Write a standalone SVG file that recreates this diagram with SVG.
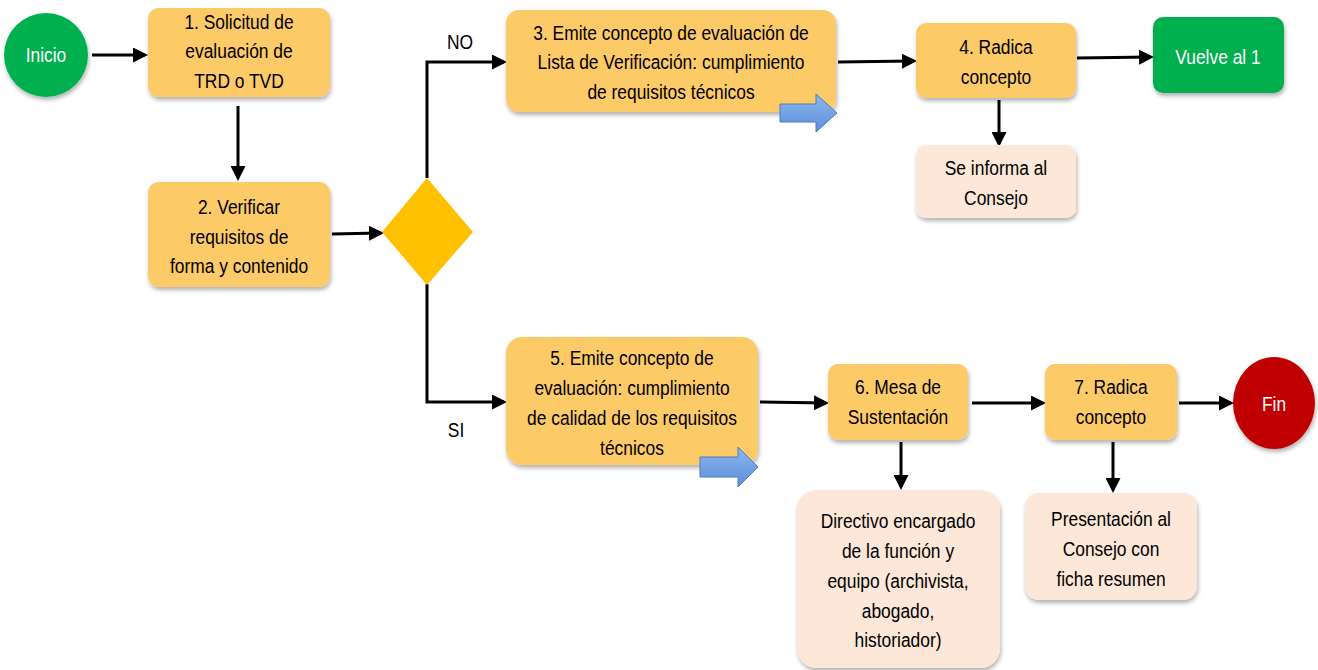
<svg xmlns="http://www.w3.org/2000/svg" width="1318" height="670" viewBox="0 0 1318 670">
<style>
.t{font-family:"Liberation Sans",Arial,sans-serif;font-size:20px;fill:#000;text-anchor:middle;dominant-baseline:central}
.w{fill:#fff}
.box{fill:#FDCA68}
.note{fill:#FCE7D8}
.con{stroke:#000;stroke-width:3;fill:none;marker-end:url(#ah)}
.blk{stroke:#4A7CC0;stroke-width:1}
</style>
<defs>
<marker id="ah" markerWidth="5" markerHeight="5" refX="4" refY="2.5" orient="auto" markerUnits="strokeWidth"><path d="M0,0 L5,2.5 L0,5 z" fill="#000"/></marker>
<filter id="sh" x="-10%" y="-10%" width="125%" height="130%"><feDropShadow dx="1" dy="3" stdDeviation="2" flood-color="#000" flood-opacity="0.3"/></filter>
<linearGradient id="bg" x1="0" y1="0" x2="0" y2="1"><stop offset="0" stop-color="#8DB6EE"/><stop offset="1" stop-color="#5A8FDA"/></linearGradient>
</defs>
<rect width="1318" height="670" fill="#fff"/>
<g id="connectors">
<line class="con" x1="92" y1="55" x2="145" y2="55"/>
<line class="con" x1="238" y1="106" x2="238" y2="178"/>
<line class="con" x1="332" y1="234" x2="381" y2="233"/>
<polyline class="con" points="427,178 427,62 504,62"/>
<polyline class="con" points="427,284 427,402 504,402"/>
<line class="con" x1="838" y1="62" x2="914" y2="61"/>
<line class="con" x1="1077" y1="58" x2="1151" y2="57"/>
<line class="con" x1="999" y1="100" x2="999" y2="144"/>
<line class="con" x1="760" y1="402" x2="826" y2="403"/>
<line class="con" x1="972" y1="403" x2="1043" y2="403"/>
<line class="con" x1="1179" y1="403" x2="1231" y2="403"/>
<line class="con" x1="901" y1="442" x2="901" y2="487"/>
<line class="con" x1="1113" y1="442" x2="1113" y2="490"/>
<g transform="translate(460,0) scale(0.87,1)"><text class="t" x="0" y="42">NO</text></g>
<g transform="translate(456,0) scale(0.87,1)"><text class="t" x="0" y="430">SI</text></g>
</g>
<g id="inicio"><circle cx="46" cy="55" r="42" fill="#00B050" filter="url(#sh)"/><g transform="translate(46,0) scale(0.87,1)"><text class="t w" x="0" y="55">Inicio</text></g></g>
<g id="n1"><rect class="box" x="148" y="8" width="182" height="89" rx="11" filter="url(#sh)"/><g transform="translate(239,0) scale(0.87,1)"><text class="t" x="0" y="22">1. Solicitud de</text><text class="t" x="0" y="51">evaluación de</text><text class="t" x="0" y="81">TRD o TVD</text></g></g>
<g id="n2"><rect class="box" x="148" y="182" width="182" height="105" rx="11" filter="url(#sh)"/><g transform="translate(239,0) scale(0.87,1)"><text class="t" x="0" y="207">2. Verificar</text><text class="t" x="0" y="237">requisitos de</text><text class="t" x="0" y="266">forma y contenido</text></g></g>
<g id="decision"><polygon points="427,178 473,232 427,285 382,232" fill="#FFC000"/></g>
<g id="n3"><rect class="box" x="506" y="10" width="330" height="102" rx="13" filter="url(#sh)"/><g transform="translate(671,0) scale(0.87,1)"><text class="t" x="0" y="33">3. Emite concepto de evaluación de</text><text class="t" x="0" y="62">Lista de Verificación: cumplimiento</text><text class="t" x="0" y="92">de requisitos técnicos</text></g><polygon class="blk" fill="url(#bg)" points="780,104 816,104 816,94 837,113 816,132 816,122 780,122"/></g>
<g id="n4"><rect class="box" x="916" y="23" width="160" height="75" rx="10" filter="url(#sh)"/><g transform="translate(996,0) scale(0.87,1)"><text class="t" x="0" y="47">4. Radica</text><text class="t" x="0" y="77">concepto</text></g></g>
<g id="vuelve"><rect x="1153" y="17" width="131" height="76" rx="10" fill="#00B050" filter="url(#sh)"/><g transform="translate(1218,0) scale(0.87,1)"><text class="t w" x="0" y="57">Vuelve al 1</text></g></g>
<g id="informa"><rect class="note" x="916" y="145" width="160" height="73" rx="10" filter="url(#sh)"/><g transform="translate(996,0) scale(0.87,1)"><text class="t" x="0" y="168">Se informa al</text><text class="t" x="0" y="198">Consejo</text></g></g>
<g id="n5"><rect class="box" x="506" y="337" width="252" height="128" rx="16" filter="url(#sh)"/><g transform="translate(632,0) scale(0.87,1)"><text class="t" x="0" y="358">5. Emite concepto de</text><text class="t" x="0" y="388">evaluación: cumplimiento</text><text class="t" x="0" y="418">de calidad de los requisitos</text><text class="t" x="0" y="448">técnicos</text></g><polygon class="blk" fill="url(#bg)" points="700,457 738,457 738,447 758,467 738,487 738,477 700,477"/></g>
<g id="n6"><rect class="box" x="828" y="364" width="140" height="76" rx="10" filter="url(#sh)"/><g transform="translate(898,0) scale(0.87,1)"><text class="t" x="0" y="387">6. Mesa de</text><text class="t" x="0" y="417">Sustentación</text></g></g>
<g id="n7"><rect class="box" x="1045" y="364" width="132" height="76" rx="10" filter="url(#sh)"/><g transform="translate(1111,0) scale(0.87,1)"><text class="t" x="0" y="387">7. Radica</text><text class="t" x="0" y="417">concepto</text></g></g>
<g id="fin"><ellipse cx="1274" cy="403" rx="41" ry="46" fill="#C00000" filter="url(#sh)"/><g transform="translate(1274,0) scale(0.87,1)"><text class="t w" x="0" y="404">Fin</text></g></g>
<g id="directivo"><rect class="note" x="797" y="490" width="203" height="178" rx="20" filter="url(#sh)"/><g transform="translate(898,0) scale(0.87,1)"><text class="t" x="0" y="521">Directivo encargado</text><text class="t" x="0" y="551">de la función y</text><text class="t" x="0" y="581">equipo (archivista,</text><text class="t" x="0" y="611">abogado,</text><text class="t" x="0" y="640">historiador)</text></g></g>
<g id="presentacion"><rect class="note" x="1025" y="493" width="172" height="107" rx="14" filter="url(#sh)"/><g transform="translate(1111,0) scale(0.87,1)"><text class="t" x="0" y="519">Presentación al</text><text class="t" x="0" y="549">Consejo con</text><text class="t" x="0" y="579">ficha resumen</text></g></g>
</svg>
